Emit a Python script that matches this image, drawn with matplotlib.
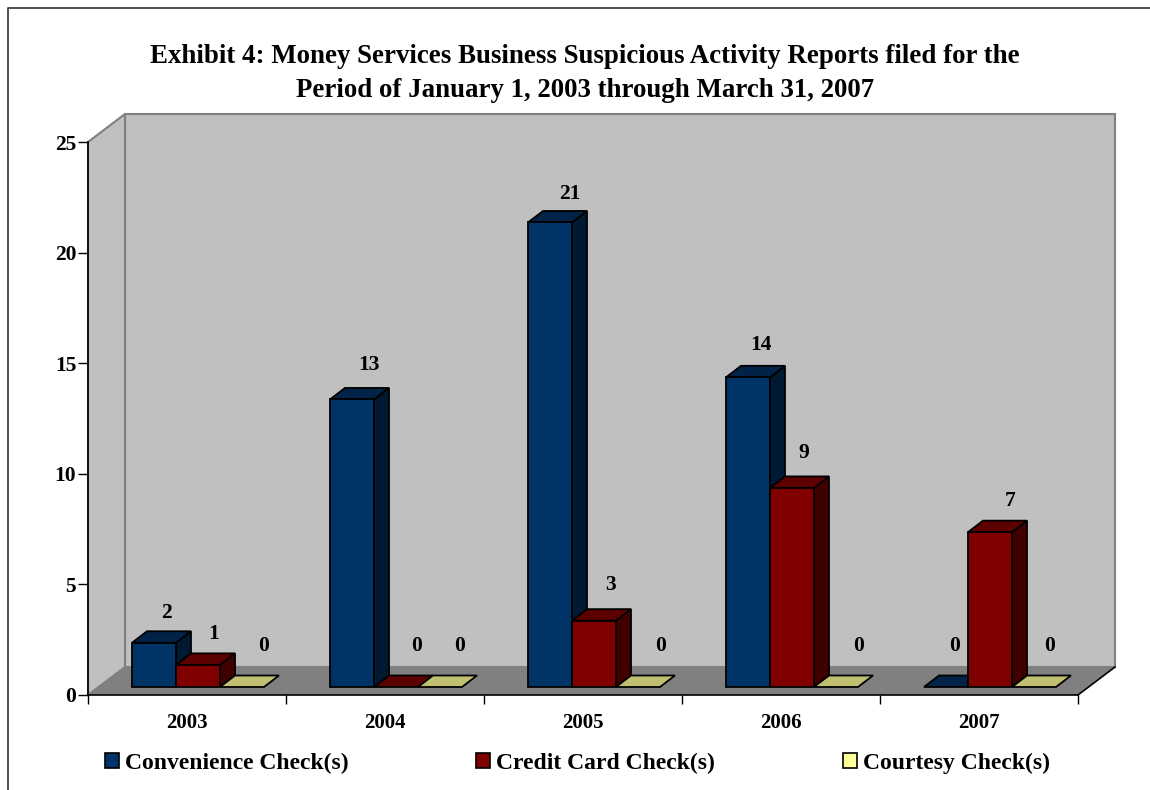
import matplotlib
matplotlib.use('Agg')
import matplotlib.pyplot as plt
from matplotlib.lines import Line2D
from matplotlib.patches import Patch, Polygon

years = ['2003', '2004', '2005', '2006', '2007']
convenience = [2, 13, 21, 14, 0]
credit_card = [1, 0, 3, 9, 7]
courtesy = [0, 0, 0, 0, 0]
series_names = ['Convenience Check(s)', 'Credit Card Check(s)', 'Courtesy Check(s)']
title = ('Exhibit 4: Money Services Business Suspicious Activity Reports filed for the\n'
         'Period of January 1, 2003 through March 31, 2007')

plt.rcParams['font.family'] = ['Liberation Serif', 'DejaVu Serif']
plt.rcParams['font.weight'] = 'bold'

W, H = 1150, 790
fig = plt.figure(figsize=(W / 100, H / 100), dpi=100, facecolor='white')
ax = fig.add_axes([88 / W, 1 - 695 / H, 990 / W, 553 / H])
ax.set_xlim(0, 5)
ax.set_ylim(0, 25)
ax.patch.set_visible(False)

# one category = 198 px, one report = 22.12 px
px_x = 5 / 990
px_y = 25 / 553
depth_x, depth_y = 37 * px_x, 28 * px_y
bar_dx, bar_dy = 15 * px_x, 11.5 * px_y
bar_w = 44 * px_x
bar_start = 44 * px_x
base = 8 * px_y

# label nudges in pixels, from the bar's front left top corner
nudge = {
    (0, 0): (34, 30), (0, 1): (38, 31), (0, 2): (44, 41),
    (1, 0): (39, 34), (1, 1): (43, 41), (1, 2): (42, 41),
    (2, 0): (42, 28), (2, 1): (39, 36), (2, 2): (45, 41),
    (3, 0): (35, 32), (3, 1): (34, 35), (3, 2): (45, 41),
    (4, 0): (31, 41), (4, 1): (42, 31), (4, 2): (38, 41),
}


def poly(pts, color, edge='black', lw=1.3, z=2):
    ax.add_patch(Polygon(pts, closed=True, facecolor=color, edgecolor=edge,
                         linewidth=lw, joinstyle='miter', clip_on=False, zorder=z))


# back wall, side wall, floor
poly([(depth_x, depth_y), (depth_x, 25 + depth_y), (5 + depth_x, 25 + depth_y), (5 + depth_x, depth_y)],
     '#c0c0c0', edge='#808080', lw=1.5, z=1)
poly([(0, 0), (0, 25), (depth_x, 25 + depth_y), (depth_x, depth_y)], '#c0c0c0', edge='#808080', lw=1.5, z=1)
poly([(0, 0), (depth_x, depth_y), (5 + depth_x, depth_y), (5, 0)], '#808080', edge='none', z=1.1)
ax.plot([5, 5 + depth_x], [0, depth_y], color='black', lw=1.2, clip_on=False, zorder=1.2)

styles = [('#003366', '#002347', '#001a33'),
          ('#800000', '#5c0000', '#400000'),
          ('#ffff99', '#c0c070', '#808060')]
values = [convenience, credit_card, courtesy]

for i in range(len(years)):
    for s, vals in enumerate(values):
        v = vals[i]
        front, top, side = styles[s]
        x0 = i + bar_start + s * bar_w
        x1 = x0 + bar_w
        y0 = base
        y1 = base + v
        if v > 0:
            poly([(x1, y0), (x1 + bar_dx, y0 + bar_dy), (x1 + bar_dx, y1 + bar_dy), (x1, y1)], side)
        poly([(x0, y1), (x0 + bar_dx, y1 + bar_dy), (x1 + bar_dx, y1 + bar_dy), (x1, y1)], top)
        if v > 0:
            poly([(x0, y0), (x1, y0), (x1, y1), (x0, y1)], front)
        off = nudge[(i, s)]
        ax.annotate(str(v), (x0, y1), xytext=(off[0], off[1]), textcoords='offset pixels',
                    ha='center', va='center', fontsize=15.5, fontweight='bold', zorder=6)

for sp in ['top', 'right']:
    ax.spines[sp].set_visible(False)
for sp in ['left', 'bottom']:
    ax.spines[sp].set_linewidth(1.2)
    ax.spines[sp].set_zorder(1.5)

ax.set_yticks([0, 5, 10, 15, 20, 25])
ax.set_xticks(range(6))
ax.set_xticklabels([])
ax.set_xticks([i + 0.5 for i in range(5)], minor=True)
ax.set_xticklabels(years, minor=True)
ax.tick_params(axis='x', which='major', length=6.5, width=1.0)
ax.tick_params(axis='x', which='minor', length=0, pad=13, labelsize=15)
ax.tick_params(axis='y', length=7, width=1.0, pad=1.5, labelsize=15.5)

fig.text(585 / W, 1 - 73.5 / H, title, ha='center', va='center', fontsize=19.4,
         fontweight='bold', linespacing=1.5)

handles = [Patch(facecolor=st[0], edgecolor='black', linewidth=1.2) for st in styles]
fig.legend(handles, series_names, loc='center left', bbox_to_anchor=(105 / W, 1 - 763 / H), ncol=3,
           frameon=False, fontsize=17, handlelength=0.6, handleheight=0.6, handletextpad=0.25,
           columnspacing=5.4, borderpad=0, borderaxespad=0)

# page frame around the chart
fig.add_artist(Line2D([8 / W, 8 / W, 1], [0, 1 - 8 / H, 1 - 8 / H], color='#505050', lw=1.4))

fig.savefig('out.png', dpi=100)
